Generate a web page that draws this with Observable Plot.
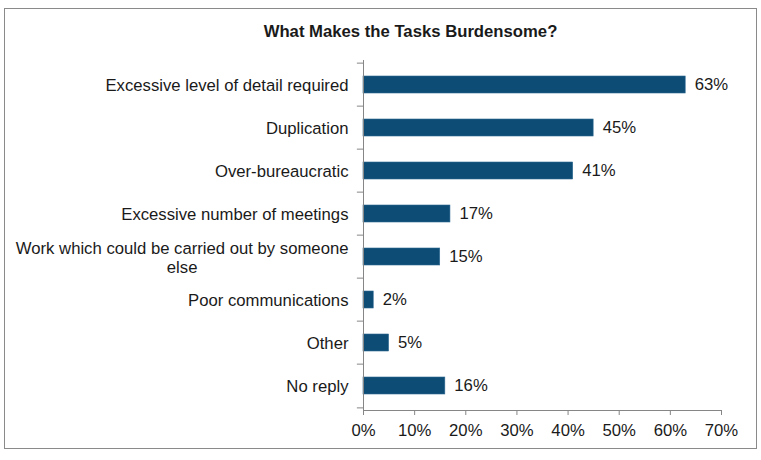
<!DOCTYPE html>
<html><head><meta charset="utf-8">
<script src="https://cdn.jsdelivr.net/npm/d3@7"></script>
<script src="https://cdn.jsdelivr.net/npm/@observablehq/plot@0.6"></script>
<style>
body{margin:0;background:#fff;}
#wrap{position:relative;width:761px;height:460px;font-family:"Liberation Sans",Arial,sans-serif;color:#1a1a1a;}
#frame{position:absolute;left:4px;top:8px;width:753px;height:441px;box-sizing:border-box;border:1.5px solid #8a8a8a;pointer-events:none;}
#title{position:absolute;left:60px;width:701px;top:23px;text-align:center;font-weight:bold;font-size:16.7px;line-height:17px;}
#chart{position:absolute;left:0;top:0;}
</style></head>
<body>
<div id="wrap"><div id="chart"></div><div id="frame"></div><div id="title">What Makes the Tasks Burdensome?</div></div>
<script>
const categories = [
  "Excessive level of detail required",
  "Duplication",
  "Over-bureaucratic",
  "Excessive number of meetings",
  "Work which could be carried out by someone\nelse",
  "Poor communications",
  "Other",
  "No reply"
];
const values = [63, 45, 41, 17, 15, 2, 5, 16];
const xTicks = [0, 10, 20, 30, 40, 50, 60, 70];

const data = categories.map((c, i) => ({category: c, value: values[i]}));

const W = 761, H = 460, mL = 363, mR = 40, mT = 60, mB = 50;
const step = (H - mT - mB) / categories.length;
const axisColor = "#868686";
const barColor = "#0d4c74";
const fs = 16.7;

const plot = Plot.plot({
  width: W, height: H,
  marginLeft: mL, marginRight: mR, marginTop: mT, marginBottom: mB,
  style: {fontFamily: "'Liberation Sans', Arial, sans-serif", fontSize: fs + "px", color: "#1a1a1a", background: "transparent", overflow: "visible"},
  x: {domain: [0, 70]},
  y: {domain: categories, paddingInner: 0.6, paddingOuter: 0.3},
  marks: [
    Plot.barX(data, {x: "value", y: "category", fill: barColor, stroke: "#2f6a93", strokeWidth: 0.6}),
    Plot.text(data, {x: "value", y: "category", text: d => d.value + "%", textAnchor: "start", dx: 9, fontSize: fs, fill: "#1a1a1a"}),
    Plot.frame({anchor: "left", stroke: axisColor}),
    Plot.frame({anchor: "bottom", stroke: axisColor}),
    Plot.ruleY(categories, {y: d => d, dy: -step / 2, x1: -1.2, x2: 0, stroke: axisColor}),
    Plot.ruleY(categories.slice(-1), {y: d => d, dy: step / 2, x1: -1.2, x2: 0, stroke: axisColor}),
    Plot.axisX({ticks: xTicks, tickFormat: d => d + "%", tickSize: 5, tickPadding: 9, fontSize: fs, stroke: axisColor, fill: "#1a1a1a", label: null}),
    Plot.axisY({tickSize: 0, tickPadding: 15, fontSize: fs, lineHeight: 1.15, fill: "#1a1a1a", label: null})
  ]
});
document.getElementById("chart").appendChild(plot);

// center the wrapped two-line label like the original
plot.querySelectorAll("text").forEach(t => {
  const spans = t.querySelectorAll("tspan");
  if (spans.length > 1) {
    const L = spans[0].getComputedTextLength();
    t.setAttribute("text-anchor", "middle");
    const tr = t.getAttribute("transform") || "";
    t.setAttribute("transform", tr + ` translate(${-L / 2},0)`);
  }
});
</script>
</body></html>
